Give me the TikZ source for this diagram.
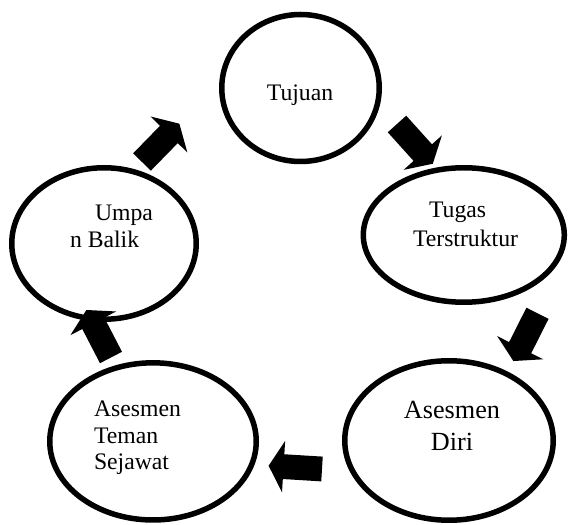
\documentclass[tikz,border=0pt]{standalone}
\usepackage{fontspec}
\setmainfont{Liberation Serif}
\usetikzlibrary{shapes.geometric}
\begin{document}
\begin{tikzpicture}[x=1pt,y=1pt,
  cyc/.style={ellipse,draw=black,line width=5.5pt,inner sep=0pt,outer sep=0pt},
  lbl/.style={inner sep=0pt,outer sep=0pt,font=\fontsize{23.7}{27}\selectfont},
  lblbig/.style={inner sep=0pt,outer sep=0pt,font=\fontsize{26.2}{30}\selectfont},
  barrow/.pic={\fill[black] (0,-12.4) -- (38.5,-12.4) -- (38.5,-25.8) -- (53.5,0) -- (38.5,25.8) -- (38.5,12.4) -- (0,12.4) -- cycle;}
]
\useasboundingbox (0,0) rectangle (568,525);
% ellipses
\node[cyc,minimum width=157.5pt,minimum height=147pt] (tuj) at (300.5,437) {};
\node[cyc,minimum width=201pt,minimum height=134.5pt] (tug) at (463.8,290) {};
\node[cyc,minimum width=208.5pt,minimum height=159.5pt] (diri) at (449,84.5) {};
\node[cyc,minimum width=206.5pt,minimum height=157.2pt] (tem) at (153,83.6) {};
\node[cyc,minimum width=184.5pt,minimum height=151.5pt] (ump) at (104,281.5) {};
% labels
\node[lbl,anchor=base] (t1) at (300,424) {Tujuan};
\node[lbl,anchor=base west] (t2a) at (429,307) {Tugas};
\node[lbl,anchor=base west] (t2b) at (413,278.3) {Terstruktur};
\node[lblbig,anchor=base] (t3a) at (452,106) {Asesmen};
\node[lblbig,anchor=base] (t3b) at (452,74.3) {Diri};
\node[lbl,anchor=base west] (t4a) at (94,108.3) {Asesmen};
\node[lbl,anchor=base west] (t4b) at (94,81) {Teman};
\node[lbl,anchor=base west] (t4c) at (94,55) {Sejawat};
\node[lbl,anchor=base west] (t5a) at (95,304.3) {Umpa};
\node[lbl,anchor=base west] (t5b) at (70,277) {n Balik};
% block arrows
\pic[rotate=-48] at (397,401) {barrow};
\pic[rotate=243.2] at (537.5,211.7) {barrow};
\pic[rotate=176.5] at (322,56) {barrow};
\pic[rotate=117.4] at (111,167.5) {barrow};
\pic[rotate=45.7] at (142,363) {barrow};
\end{tikzpicture}
\end{document}
